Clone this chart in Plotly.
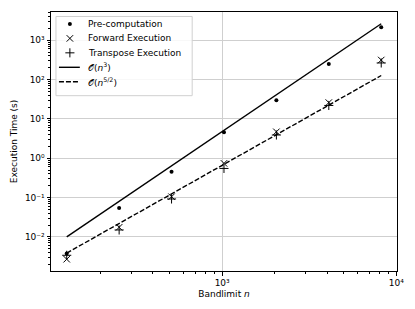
import plotly.graph_objects as go

# Data
bandlimit = [128, 256, 512, 1024, 2048, 4096, 8192]
precomputation = [0.0038, 0.054, 0.45, 4.6, 30, 250, 2150]
forward_exec = [0.0027, 0.0175, 0.105, 0.74, 4.7, 26, 315]
transpose_exec = [0.0034, 0.015, 0.092, 0.55, 3.9, 22, 265]
ref_n3 = [0.0100, 0.0802, 0.642, 5.13, 41.1, 329, 2630]
ref_n52 = [0.00387, 0.0219, 0.124, 0.70, 3.96, 22.4, 127]

series_names = ["Pre-computation", "Forward Execution", "Transpose Execution",
                "𝒪(<i>n</i><sup>3</sup>)", "𝒪(<i>n</i><sup>5/2</sup>)"]

y_tickvals = [1e-2, 1e-1, 1, 10, 100, 1000]
y_ticktext = ["10⁻²", "10⁻¹", "10⁰", "10¹", "10²", "10³"]
x_tickvals = [1000, 10000]
x_ticktext = ["10³", "10⁴"]

FONT = "DejaVu Sans"


def minor_vals(lo, hi):
    vals = []
    for e in range(lo, hi + 1):
        for m in range(2, 10):
            vals.append(m * 10 ** e)
    return vals


dot_marker = dict(symbol="circle", size=4, color="black")
x_marker = dict(symbol="x-thin-open", size=6.5, color="black", line=dict(color="black", width=1))
plus_marker = dict(symbol="cross-thin-open", size=6.5, color="black", line=dict(color="black", width=1))
solid_line = dict(color="black", width=1.4)
dash_line = dict(color="black", width=1.4, dash="5px,2px")

fig = go.Figure()
fig.add_trace(go.Scatter(x=bandlimit, y=precomputation, mode="markers",
                         name=series_names[0], marker=dot_marker, showlegend=False))
fig.add_trace(go.Scatter(x=bandlimit, y=forward_exec, mode="markers",
                         name=series_names[1], marker=x_marker, showlegend=False))
fig.add_trace(go.Scatter(x=bandlimit, y=transpose_exec, mode="markers",
                         name=series_names[2], marker=plus_marker, showlegend=False))
fig.add_trace(go.Scatter(x=bandlimit, y=ref_n3, mode="lines",
                         name=series_names[3], line=solid_line, showlegend=False))
fig.add_trace(go.Scatter(x=bandlimit, y=ref_n52, mode="lines",
                         name=series_names[4], line=dash_line, showlegend=False))

# ---- custom legend (matplotlib-like compact spacing) on a pixel overlay axis ----
PW, PH = 348, 260  # plot area size in px
box_x0, box_y0, box_x1, box_y1 = 5, 4.5, 142, 84
row_y = [12, 26.5, 41, 55.5, 70]
handle_x0, handle_x1, handle_mid, text_x = 8, 29, 19, 35

fig.add_trace(go.Scatter(x=[box_x0, box_x1, box_x1, box_x0, box_x0],
                         y=[box_y0, box_y0, box_y1, box_y1, box_y0],
                         mode="lines", fill="toself", fillcolor="rgba(255,255,255,0.85)",
                         line=dict(color="#d0d0d0", width=1),
                         xaxis="x2", yaxis="y2", showlegend=False, hoverinfo="skip"))
for i, mk in enumerate([dot_marker, x_marker, plus_marker]):
    fig.add_trace(go.Scatter(x=[handle_mid], y=[row_y[i]], mode="markers", marker=mk,
                             xaxis="x2", yaxis="y2", showlegend=False, hoverinfo="skip"))
for i, ln in [(3, solid_line), (4, dash_line)]:
    fig.add_trace(go.Scatter(x=[handle_x0, handle_x1], y=[row_y[i], row_y[i]], mode="lines",
                             line=ln, xaxis="x2", yaxis="y2", showlegend=False, hoverinfo="skip"))
for i, name in enumerate(series_names):
    fig.add_annotation(x=text_x, y=row_y[i], xref="x2", yref="y2", text=name, showarrow=False,
                       xanchor="left", yanchor="middle", font=dict(family=FONT, size=9, color="black"))

axis_common = dict(
    type="log", showline=True, linecolor="black", linewidth=1, mirror=True,
    ticks="outside", ticklen=3.5, tickcolor="black", tickwidth=0.8,
    showgrid=True, gridcolor="#cfcfcf", gridwidth=0.8, zeroline=False,
    tickfont=dict(family=FONT, size=9, color="black"),
)

fig.update_layout(
    xaxis=dict(
        range=[2.017, 4.004], tickmode="array", tickvals=x_tickvals, ticktext=x_ticktext,
        minor=dict(ticks="outside", ticklen=2, tickcolor="black", tickwidth=0.6,
                   tickmode="array", tickvals=minor_vals(2, 3), showgrid=False),
        title=dict(text="Bandlimit <i>n</i>", font=dict(family=FONT, size=9, color="black"),
                   standoff=3),
        **axis_common,
    ),
    yaxis=dict(
        range=[-2.868, 3.719], tickmode="array", tickvals=y_tickvals, ticktext=y_ticktext,
        minor=dict(ticks="outside", ticklen=2, tickcolor="black", tickwidth=0.6,
                   tickmode="array", tickvals=minor_vals(-3, 3), showgrid=False),
        title=dict(text="Execution Time (s)", font=dict(family=FONT, size=9, color="black"),
                   standoff=5),
        **axis_common,
    ),
    xaxis2=dict(overlaying="x", anchor="y2", range=[0, PW], visible=False, fixedrange=True),
    yaxis2=dict(overlaying="y", anchor="x2", range=[PH, 0], visible=False, fixedrange=True),
    width=415, height=309,
    margin=dict(l=51, r=16, t=11, b=38),
    paper_bgcolor="white", plot_bgcolor="white",
    font=dict(family=FONT, size=9, color="black"),
    showlegend=False,
    hovermode=False,
)

fig.write_html("out.html", config={"displayModeBar": False},
               post_script="document.body.style.margin='0px';")
